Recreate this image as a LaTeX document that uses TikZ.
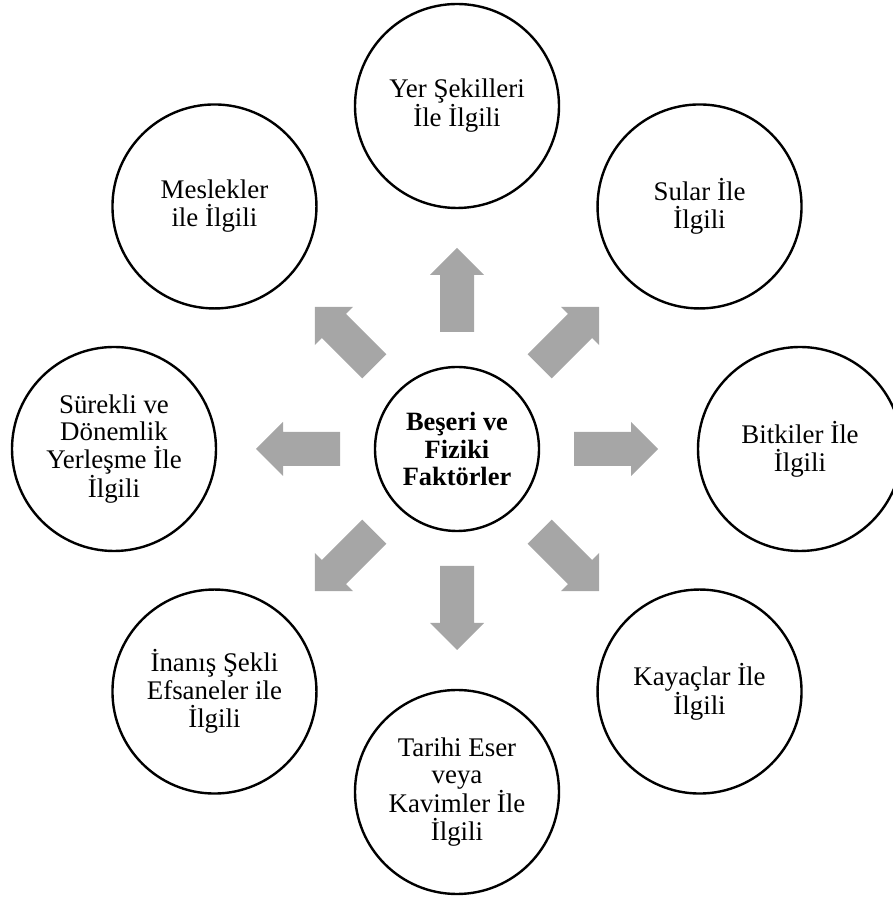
\documentclass[tikz,border=0pt]{standalone}
\usepackage{fontspec}
\setmainfont{Liberation Serif}
\definecolor{arrowgray}{HTML}{A6A6A6}
\tikzset{
  bubble/.style={circle, draw=black, line width=2.4bp, fill=white, minimum size=204bp,
    inner sep=0pt, align=center, font=\fontsize{27}{28}\selectfont},
  hub/.style={circle, draw=black, line width=2.4bp, fill=white, minimum size=164bp,
    inner sep=0pt, align=center, font=\fontsize{26.5}{27.5}\selectfont\bfseries},
  blockarrow/.style={fill=arrowgray, draw=none}
}
\begin{document}
\begin{tikzpicture}[x=1bp, y=1bp]
\useasboundingbox (0,0) rectangle (893,897);
\begin{scope}[shift={(457,448)}]
  \node[hub] (c) at (0,0) {Beşeri ve\\Fiziki\\Faktörler};
  \node[bubble] (n0) at (0:343)   {Bitkiler İle\\İlgili};
  \node[bubble] (n1) at (45:343)  {Sular İle\\İlgili};
  \node[bubble] (n2) at (90:343)  {Yer Şekilleri\\İle İlgili};
  \node[bubble] (n3) at (135:343) {Meslekler\\ile İlgili};
  \node[bubble] (n4) at (180:343) {Sürekli ve\\Dönemlik\\Yerleşme İle\\İlgili};
  \node[bubble] (n5) at (225:343) {İnanış Şekli\\Efsaneler ile\\İlgili};
  \node[bubble] (n6) at (270:343) {Tarihi Eser\\veya\\Kavimler İle\\İlgili};
  \node[bubble] (n7) at (315:343) {Kayaçlar İle\\İlgili};
  \foreach \a in {0,45,...,315} {
    \begin{scope}[rotate=\a]
      \fill[blockarrow] (117,-17) -- (174,-17) -- (174,-27) -- (201,0)
        -- (174,27) -- (174,17) -- (117,17) -- cycle;
    \end{scope}
  }
\end{scope}
\end{tikzpicture}
\end{document}
